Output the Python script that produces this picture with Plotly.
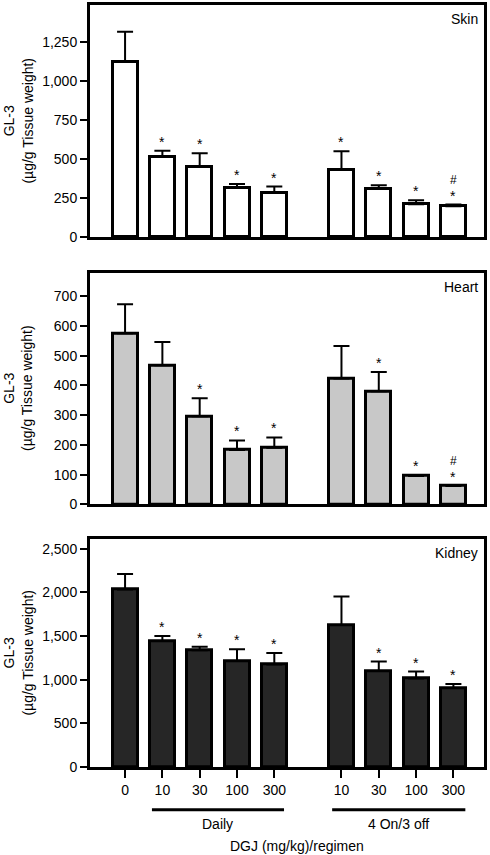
import plotly.graph_objects as go
from plotly.subplots import make_subplots

# ---- data ----
dose_labels = ["0", "10", "30", "100", "300", "10", "30", "100", "300"]
regimen = ["Control", "Daily", "Daily", "Daily", "Daily", "4 On/3 off", "4 On/3 off", "4 On/3 off", "4 On/3 off"]

skin_mean = [1122, 515, 451, 315, 283, 432, 308, 210, 198]
skin_sem = [192, 38, 85, 25, 40, 117, 24, 26, 10]
skin_sig = ["", "*", "*", "*", "*", "*", "*", "*", "*#"]

heart_mean = [575, 468, 296, 183, 190, 423, 380, 95, 62]
heart_sem = [98, 78, 61, 32, 35, 109, 65, 2, 1]
heart_sig = ["", "", "*", "*", "*", "", "*", "*", "*#"]

kidney_mean = [2033, 1443, 1337, 1215, 1174, 1626, 1101, 1015, 904]
kidney_sem = [179, 57, 42, 134, 132, 327, 107, 79, 46]
kidney_sig = ["", "*", "*", "*", "*", "", "*", "*", "*"]

panels = [
    ("Skin", skin_mean, skin_sem, skin_sig, "#ffffff", [0, 1485], [0, 250, 500, 750, 1000, 1250]),
    ("Heart", heart_mean, heart_sem, heart_sig, "#c8c8c8", [0, 779], [0, 100, 200, 300, 400, 500, 600, 700]),
    ("Kidney", kidney_mean, kidney_sem, kidney_sig, "#262626", [0, 2610], [0, 500, 1000, 1500, 2000, 2500]),
]

# x positions: categories with a gap between regimen groups
GAP = 0.8
xpos = []
for i, r in enumerate(regimen):
    xpos.append(i + (GAP if r == "4 On/3 off" else 0))

FONT = "Liberation Sans, Arial, Helvetica, sans-serif"

fig = make_subplots(rows=3, cols=1)

# plot-area vertical pixel extents (top, bottom) in the 855px page
M_T, M_B = 2, 88
H = 855 - M_T - M_B
boxes = [(2, 235), (270.7, 503.3), (538.3, 767)]
def py(p):
    return (855 - M_B - p) / H

annotations = []
for k, (name, mean, sem, sig, color, yr, tv) in enumerate(panels):
    row = k + 1
    fig.add_trace(go.Bar(
        x=xpos, y=mean, width=0.67,
        marker=dict(color=color, line=dict(color="black", width=3)),
        error_y=dict(type="data", array=sem, arrayminus=[0] * len(sem), symmetric=False,
                     color="black", thickness=2, width=8),
        showlegend=False,
    ), row=row, col=1)
    top, bot = boxes[k]
    yax = "yaxis" if row == 1 else f"yaxis{row}"
    xax = "xaxis" if row == 1 else f"xaxis{row}"
    fig.layout[yax].update(
        domain=[py(bot), py(top)], range=yr, tickvals=tv, tickformat=",",
        ticks="outside", ticklen=7, tickwidth=2, tickcolor="black",
        showline=True, linewidth=3, linecolor="black", mirror=True,
        showgrid=False, zeroline=False,
        tickfont=dict(family=FONT, size=14, color="black"),
    )
    fig.layout[xax].update(
        range=[-0.94, 9.62], showline=True, linewidth=3, linecolor="black", mirror=True,
        showgrid=False, zeroline=False,
        tickvals=xpos, ticktext=dose_labels,
        ticks="outside" if row == 3 else "", ticklen=8, tickwidth=2, tickcolor="black",
        showticklabels=(row == 3),
        tickfont=dict(family=FONT, size=14, color="black"),
    )
    yref = "y" if row == 1 else f"y{row}"
    xref = "x" if row == 1 else f"x{row}"
    # panel label
    annotations.append(dict(text=name, xref=f"{xref} domain", yref=f"{yref} domain", x=1, y=1,
                            xanchor="right", yanchor="middle", xshift=-4, yshift=-14,
                            showarrow=False, font=dict(family=FONT, size=14, color="black")))
    # y title
    annotations.append(dict(text="GL-3<br>(µg/g Tissue weight)", xref="paper", yref="paper",
                            x=(18.5 - 90) / 394, y=py((top + bot) / 2), textangle=-90,
                            xanchor="center", yanchor="middle", showarrow=False,
                            font=dict(family=FONT, size=14, color="black")))
    # significance marks
    for xi, m, s, g in zip(xpos, mean, sem, sig):
        if "*" in g:
            annotations.append(dict(text="*", x=xi, y=m + s, xref=xref, yref=yref,
                                    xanchor="center", yanchor="bottom", yshift=0, borderpad=0,
                                    showarrow=False,
                                    font=dict(family=FONT, size=14, color="black")))
        if "#" in g:
            annotations.append(dict(text="#", x=xi, y=m + s, xref=xref, yref=yref,
                                    xanchor="center", yanchor="bottom", yshift=17, borderpad=0,
                                    showarrow=False,
                                    font=dict(family=FONT, size=12, color="black")))

# group lines and labels under the bottom panel
groups = [("Daily", 0.72, 4.26), ("4 On/3 off", 5.55, 9.12)]
shapes = []
for lab, x0, x1 in groups:
    shapes.append(dict(type="line", xref="x3", yref="paper", x0=x0, x1=x1,
                       y0=py(810), y1=py(810), line=dict(color="black", width=3)))
    annotations.append(dict(text=lab, xref="x3", yref="paper", x=(x0 + x1) / 2, y=py(824),
                            xanchor="center", yanchor="middle", showarrow=False,
                            font=dict(family=FONT, size=14, color="black")))
annotations.append(dict(text="DGJ (mg/kg)/regimen", xref="paper", yref="paper",
                        x=(297 - 90) / 394, y=py(846), xanchor="center", yanchor="middle",
                        showarrow=False, font=dict(family=FONT, size=14, color="black")))

fig.update_layout(
    width=490, height=855,
    margin=dict(l=90, r=6, t=M_T, b=M_B),
    plot_bgcolor="white", paper_bgcolor="white",
    annotations=annotations, shapes=shapes,
    bargap=0, showlegend=False,
    font=dict(family=FONT, size=14, color="black"),
)

fig.write_html("out.html", config={"displayModeBar": False},
               post_script="document.body.style.margin='0';document.body.style.overflow='hidden';")
